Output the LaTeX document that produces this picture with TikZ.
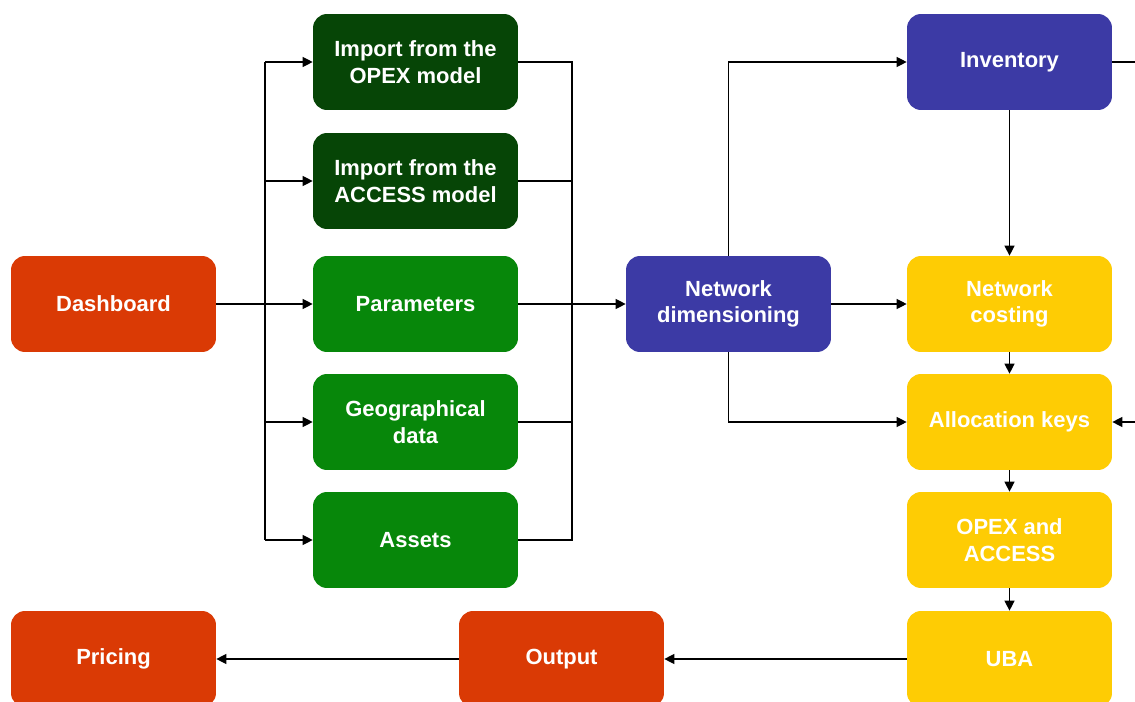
\documentclass[tikz,border=0pt]{standalone}
\usepackage{fontspec}
\setmainfont{Liberation Sans}
\usetikzlibrary{arrows.meta}

\definecolor{redbox}{HTML}{DA3A05}
\definecolor{darkgreenbox}{HTML}{064506}
\definecolor{greenbox}{HTML}{07870A}
\definecolor{bluebox}{HTML}{3C3AA5}
\definecolor{yellowbox}{HTML}{FECC04}

\tikzset{
  box/.style={rectangle,rounded corners=0.28cm,minimum width=4.1cm,minimum height=1.92cm,
    align=center,text=white,font=\bfseries\fontsize{12.5}{15}\selectfont},
  link/.style={line width=0.7pt,-{Triangle[length=0.2cm,width=0.2cm]}},
  trunk/.style={line width=0.7pt}
}

\begin{document}
\begin{tikzpicture}[x=0.02cm,y=-0.02cm]

        \path[use as bounding box,clip] (0,0) rectangle (1135,702);
        \fill[white] (0,0) rectangle (1135,702);

        \begin{scope}[every node/.style={box}]
          \node[fill=redbox]       (dash)    at (113.5,304) {Dashboard};
          \node[fill=darkgreenbox] (opex)    at (415.5,62)  {Import from the\\OPEX model};
          \node[fill=darkgreenbox] (access)  at (415.5,181) {Import from the\\ACCESS model};
          \node[fill=greenbox]     (params)  at (415.5,304) {Parameters};
          \node[fill=greenbox]     (geo)     at (415.5,422) {Geographical\\data};
          \node[fill=greenbox]     (assets)  at (415.5,540) {Assets};
          \node[fill=bluebox]      (netdim)  at (728.5,304) {Network\\dimensioning};
          \node[fill=bluebox]      (inv)     at (1009.5,62) {Inventory};
          \node[fill=yellowbox]    (netcost) at (1009.5,304) {Network\\costing};
          \node[fill=yellowbox]    (alloc)   at (1009.5,422) {Allocation keys};
          \node[fill=yellowbox]    (opexacc) at (1009.5,540) {OPEX and\\ACCESS};
          \node[fill=yellowbox]    (uba)     at (1009.5,659) {UBA};
          \node[fill=redbox]       (output)  at (561.5,659)  {Output};
          \node[fill=redbox]       (pricing) at (113.5,659)  {Pricing};
        \end{scope}

        % trunks on both sides of the inputs
        \coordinate (lt) at (265,62);
        \coordinate (lb) at (265,540);
        \coordinate (rt) at (572,62);
        \coordinate (rb) at (572,540);
        \coordinate (invout)  at (1145,62);
        \coordinate (allocin) at (1145,422);

        \draw[trunk] (lt) -- (lb);
        \draw[trunk] (dash) -- (dash -| lt);
        \draw[link] (lt) -- (opex);
        \draw[link] (access -| lt) -- (access);
        \draw[link] (params -| lt) -- (params);
        \draw[link] (geo -| lt) -- (geo);
        \draw[link] (lb) -- (assets);

        \draw[trunk] (opex) -- (rt) -- (rb) -- (assets);
        \draw[trunk] (access) -- (access -| rt);
        \draw[trunk] (params) -- (params -| rt);
        \draw[trunk] (geo) -- (geo -| rt);
        \draw[link] (params -| rt) -- (netdim);

        \draw[link] (netdim) |- (inv);
        \draw[link] (netdim) -- (netcost);
        \draw[link] (netdim) |- (alloc);

        \draw[trunk] (inv) -- (invout);
        \draw[link] (allocin) -- (alloc);
        \draw[link] (inv) -- (netcost);
        \draw[link] (netcost) -- (alloc);
        \draw[link] (alloc) -- (opexacc);
        \draw[link] (opexacc) -- (uba);
        \draw[link] (uba) -- (output);
        \draw[link] (output) -- (pricing);

      \end{tikzpicture}
\end{document}
